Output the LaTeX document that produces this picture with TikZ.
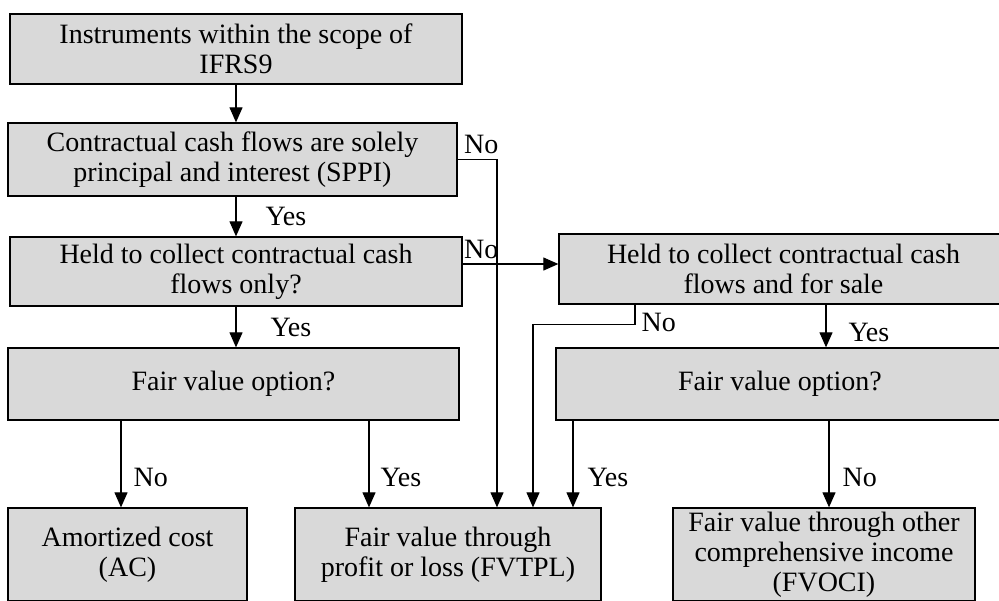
\documentclass[tikz,border=0pt]{standalone}
\usepackage{fontspec}
\setmainfont{Liberation Serif}
\usetikzlibrary{arrows.meta}
\definecolor{boxgray}{RGB}{217,217,217}

\begin{document}
\begin{tikzpicture}[x=1pt, y=-1pt,
            box/.style={draw, line width=1.3pt, fill=boxgray, align=center, inner sep=0pt, font=\fontsize{28}{30}\selectfont},
            flow/.style={line width=1.1pt, -{Triangle[length=15pt, width=13pt]}},
            lab/.style={inner sep=0pt, font=\fontsize{28}{30}\selectfont}]
            \useasboundingbox(0, 0)rectangle(999, 600);
            \clip(0, 0)rectangle(999, 600);
            \node[box, minimum width=452pt, minimum height=70pt](scope)at(236, 49){Instruments within the scope of\\IFRS9};
            \node[box, minimum width=449pt, minimum height=73pt](sppi)at(232.5, 159.5){Contractual cash flows are solely\\principal and interest (SPPI)};
            \node[box, minimum width=452pt, minimum height=69pt](hold)at(236, 271.5){Held to collect contractual cash\\flows only?};
            \node[box, minimum width=449pt, minimum height=70pt](sale)at(783.5, 269){Held to collect contractual cash\\flows and for sale};
            \node[box, minimum width=451pt, minimum height=72pt](fvoL)at(233.5, 384){Fair value option?};
            \node[box, minimum width=448pt, minimum height=72pt](fvoR)at(780, 384){Fair value option?};
            \node[box, minimum width=239pt, minimum height=93pt](ac)at(127.5, 554.5){Amortized cost\\(AC)};
            \node[box, minimum width=306pt, minimum height=93pt](fvtpl)at(448, 554.5){Fair value through\\profit or loss (FVTPL)};
            \node[box, minimum width=302pt, minimum height=93pt](fvoci)at(824, 554.5){Fair value through other\\comprehensive income\\(FVOCI)};
            \coordinate(holdno)at([yshift=7.5pt]hold.east);
            \coordinate(saleyes)at([xshift=42.5pt]sale.south);
            \coordinate(saleno)at([xshift=-148.5pt]sale.south);
            \coordinate(fvoLno)at([xshift=-112.5pt]fvoL.south);
            \coordinate(fvoLyes)at([xshift=135.5pt]fvoL.south);
            \coordinate(fvoRyes)at([xshift=-207pt]fvoR.south);
            \coordinate(fvoRno)at([xshift=49pt]fvoR.south);
            \draw[flow](scope.south)--(scope.south |- sppi.north);
            \draw[flow](hold.north |- sppi.south)--(hold.north)node[lab, pos=.5, right=29pt]{Yes};
            \draw[flow](sppi.east)node[lab, anchor=south west, xshift=6pt, yshift=5pt]{No}-|([xshift=49pt]fvtpl.north);
            \draw[flow](holdno)node[lab, anchor=south west, xshift=1pt, yshift=5pt]{No}--(holdno -| sale.west);
            \draw[flow](hold.south)--(hold.south |- fvoL.north)node[lab, pos=.52, right=34pt]{Yes};
            \draw[flow](saleyes)--(saleyes |- fvoR.north)node[lab, pos=.64, right=22pt]{Yes};
            \draw[flow](saleno)node[lab, anchor=north west, xshift=6pt, yshift=-8pt]{No}--++(0, 20)-|([xshift=85pt]fvtpl.north);
            \draw[flow](fvoLno)--(fvoLno |- ac.north)node[lab, pos=.66, right=12pt]{No};
            \draw[flow](fvoLyes)--(fvoLyes |- fvtpl.north)node[lab, pos=.65, right=11pt]{Yes};
            \draw[flow](fvoRyes)--(fvoRyes |- fvtpl.north)node[lab, pos=.66, right=14pt]{Yes};
            \draw[flow](fvoRno)--(fvoRno |- fvoci.north)node[lab, pos=.66, right=13pt]{No};
        \end{tikzpicture}
\end{document}
